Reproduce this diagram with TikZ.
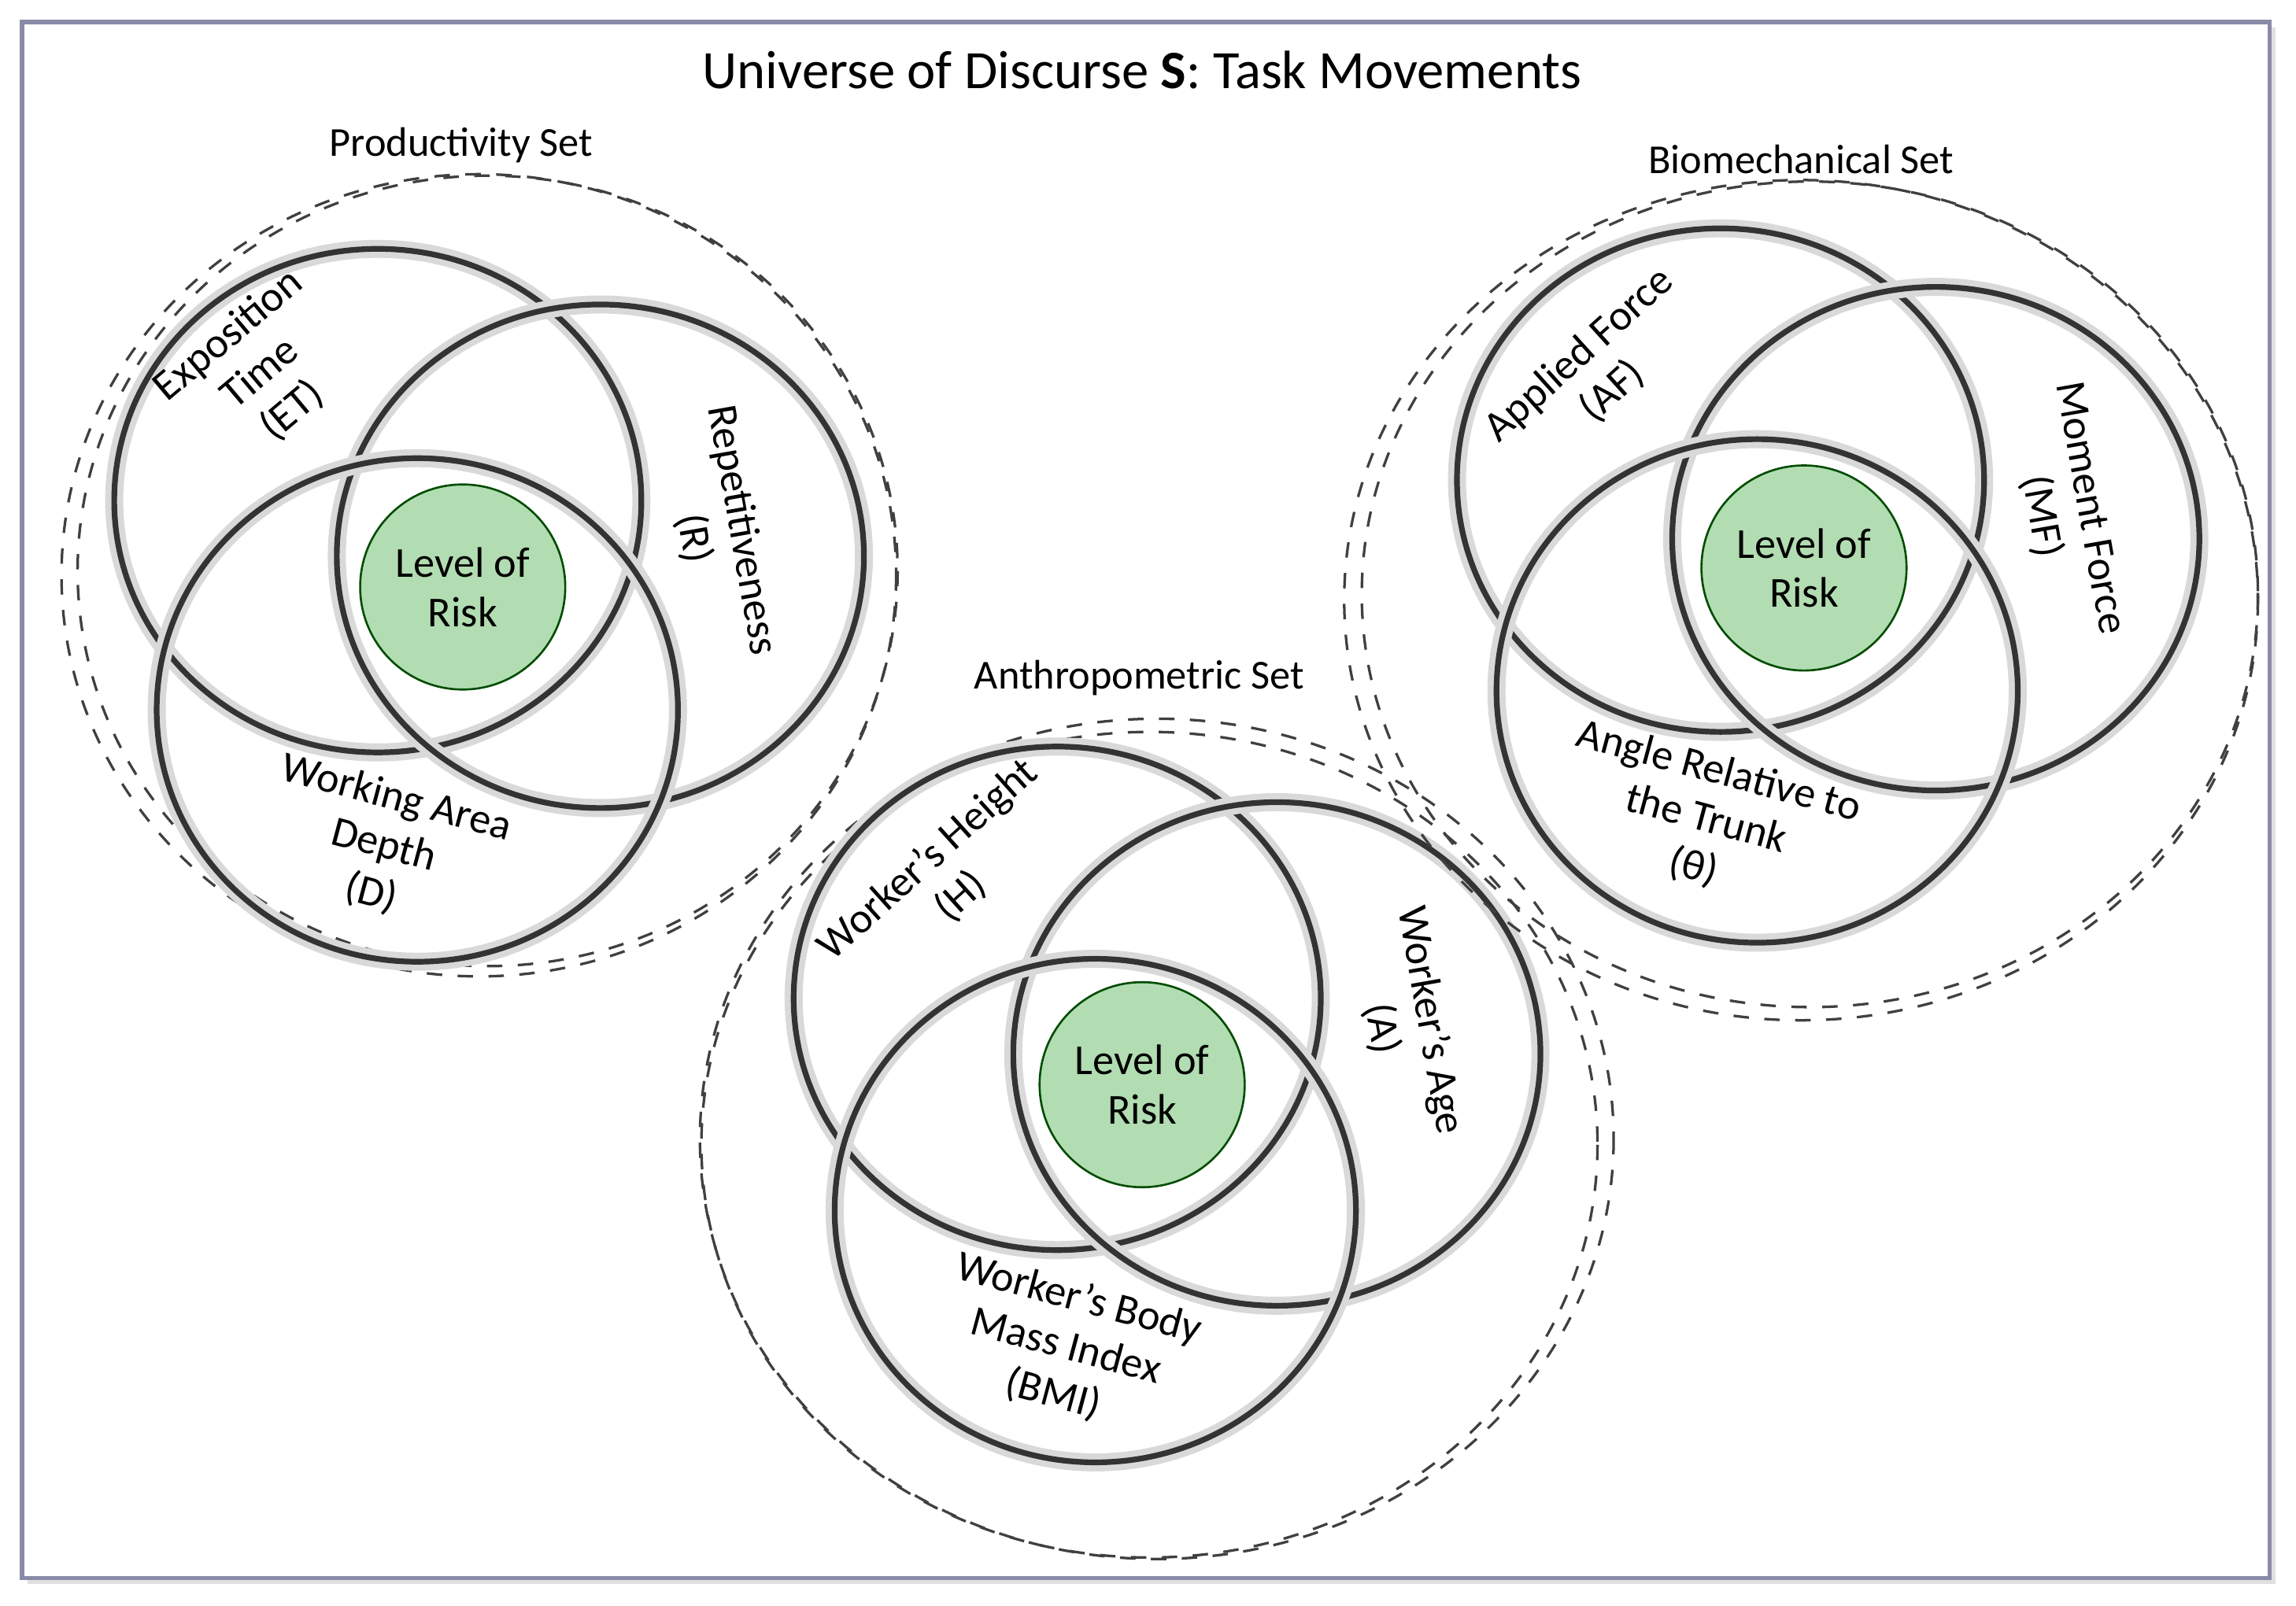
\documentclass[tikz,border=0pt]{standalone}
\usepackage{fontspec}
\setmainfont{Carlito}
\begin{document}
\begin{tikzpicture}[x=0.01cm,y=-0.01cm,
  dset/.style={draw=black!75,dashed,line width=0.5pt},
  ring/.style={draw=black!80,line width=1.1pt,preaction={draw=black!15,line width=3.5pt}},
  risk/.style={fill=green!55!black!30!white,fill opacity=1,draw=green!30!black,line width=0.4pt},
  lab/.style={font=\fontsize{8.3}{9.6}\selectfont,align=center},
  stitle/.style={font=\fontsize{8}{9}\selectfont}]
\useasboundingbox (0,0) rectangle (1568,1097);
\fill[black!12] (19,19) rectangle (1554,1082);
\draw[fill=white,draw=blue!15!gray!80,line width=0.8pt] (15,15) rectangle (1550,1078);
\node[font=\fontsize{10.5}{12}\selectfont] (title) at (780,48) {Universe of Discurse \textbf{S}: Task Movements};
% Productivity
\draw[dset] (327,393) ellipse (285 and 274);
\draw[dset] (333,390) ellipse (280 and 270);
\node[stitle] (pt) at (315,99) {Productivity Set};
\draw[ring] (258,342) ellipse (180 and 172);
\draw[ring] (410,380) ellipse (180 and 172);
\draw[ring] (285,485) ellipse (178 and 172);
\node[risk,circle,minimum size=1.4cm,lab] (r1) at (316,401) {Level of\\Risk};
\node[lab,rotate=40] (et) at (178,255) {Exposition\\Time\\(ET)};
\node[lab,rotate=-80] (rr) at (490,365) {Repetitiveness\\(R)};
\node[lab,rotate=-15] (dd) at (262,578) {Working Area\\Depth\\(D)};
% Anthropometric
\draw[dset] (790,778) ellipse (312 and 287);
\draw[dset] (785,782) ellipse (306 and 282);
\node[stitle] (at) at (778,463) {Anthropometric Set};
\draw[ring] (722,682) ellipse (180 and 172);
\draw[ring] (872,720) ellipse (180 and 172);
\draw[ring] (748,827) ellipse (178 and 172);
\node[risk,circle,minimum size=1.4cm,lab] (r2) at (780,741) {Level of\\Risk};
\node[lab,rotate=42] (hh) at (645,600) {Worker's Height\\(H)};
\node[lab,rotate=-80] (aa) at (960,700) {Worker's Age\\(A)};
\node[lab,rotate=-15] (bmi) at (728,920) {Worker's Body\\Mass Index\\(BMI)};
% Biomechanical
\draw[dset] (1230,410) ellipse (312 and 287);
\draw[dset] (1236,406) ellipse (306 and 282);
\node[stitle] (bt) at (1230,109) {Biomechanical Set};
\draw[ring] (1175,328) ellipse (180 and 172);
\draw[ring] (1322,368) ellipse (180 and 172);
\draw[ring] (1200,472) ellipse (178 and 172);
\node[risk,circle,minimum size=1.4cm,lab] (r3) at (1232,388) {Level of\\Risk};
\node[lab,rotate=42] (af) at (1090,255) {Applied Force\\(AF)};
\node[lab,rotate=-80] (mf) at (1410,350) {Moment Force\\(MF)};
\node[lab,rotate=-15] (th) at (1165,560) {Angle Relative to\\the Trunk\\(θ)};
\end{tikzpicture}
\end{document}
